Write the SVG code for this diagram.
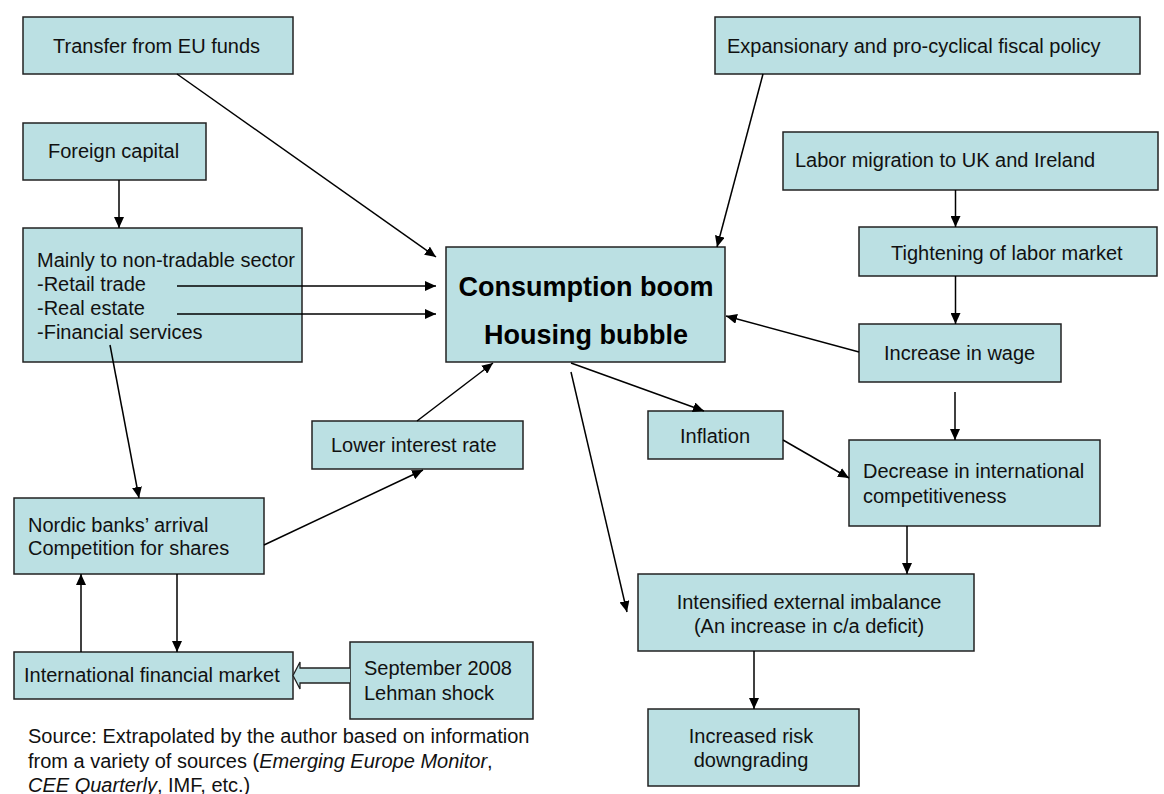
<svg xmlns="http://www.w3.org/2000/svg" width="1164" height="794" viewBox="0 0 1164 794">
<defs>
<marker id="ah" markerUnits="userSpaceOnUse" markerWidth="12" markerHeight="10" refX="11" refY="5" orient="auto">
<path d="M0,0 L11,5 L0,10 Z" fill="#000"/>
</marker>
<style>
.box{fill:#BBE0E3;stroke:#222;stroke-width:1.5}
.t{font-family:"Liberation Sans",Arial,sans-serif;font-size:20px;fill:#111}
.b{font-family:"Liberation Sans",Arial,sans-serif;font-size:27px;font-weight:bold;fill:#000}
.c{text-anchor:middle}
.ln{stroke:#000;stroke-width:1.5;fill:none;marker-end:url(#ah)}
</style>
</defs>
<rect width="1164" height="794" fill="#fff"/>

<g id="eu-funds">
<rect class="box" x="23" y="17" width="270" height="57"/>
<text class="t" x="53" y="53">Transfer from EU funds</text>
</g>
<g id="foreign-capital">
<rect class="box" x="23" y="123" width="183" height="57"/>
<text class="t" x="48" y="158">Foreign capital</text>
</g>
<g id="non-tradable">
<rect class="box" x="23" y="228" width="279" height="134"/>
<text class="t" x="37" y="267">Mainly to non-tradable sector</text>
<text class="t" x="37" y="291">-Retail trade</text>
<text class="t" x="37" y="315">-Real estate</text>
<text class="t" x="37" y="339">-Financial services</text>
</g>
<g id="consumption">
<rect class="box" x="446" y="247" width="279" height="115"/>
<text class="b c" x="586" y="296">Consumption boom</text>
<text class="b c" x="586" y="344">Housing bubble</text>
</g>
<g id="fiscal">
<rect class="box" x="715" y="17" width="425" height="57"/>
<text class="t" x="727" y="53">Expansionary and pro-cyclical fiscal policy</text>
</g>
<g id="labor-migration">
<rect class="box" x="783" y="132" width="375" height="58"/>
<text class="t" x="795" y="167">Labor migration to UK and Ireland</text>
</g>
<g id="tightening">
<rect class="box" x="859" y="227" width="298" height="49"/>
<text class="t" x="891" y="260">Tightening of labor market</text>
</g>
<g id="wage">
<rect class="box" x="859" y="324" width="202" height="58"/>
<text class="t" x="884" y="360">Increase in wage</text>
</g>
<g id="lower-rate">
<rect class="box" x="312" y="421" width="211" height="48"/>
<text class="t" x="331" y="452">Lower interest rate</text>
</g>
<g id="nordic">
<rect class="box" x="14" y="498" width="250" height="76"/>
<text class="t" x="28" y="532">Nordic banks’ arrival</text>
<text class="t" x="28" y="555">Competition for shares</text>
</g>
<g id="intl-market">
<rect class="box" x="14" y="652" width="279" height="47"/>
<text class="t" x="24" y="682">International financial market</text>
</g>
<g id="lehman">
<rect class="box" x="350" y="642" width="183" height="77"/>
<text class="t" x="364" y="675">September 2008</text>
<text class="t" x="364" y="700">Lehman shock</text>
</g>
<g id="inflation">
<rect class="box" x="648" y="411" width="135" height="48"/>
<text class="t" x="680" y="443">Inflation</text>
</g>
<g id="competitiveness">
<rect class="box" x="849" y="440" width="251" height="86"/>
<text class="t" x="863" y="478">Decrease in international</text>
<text class="t" x="863" y="503">competitiveness</text>
</g>
<g id="imbalance">
<rect class="box" x="638" y="574" width="336" height="77"/>
<text class="t c" x="809" y="609">Intensified external imbalance</text>
<text class="t c" x="809" y="633">(An increase in c/a deficit)</text>
</g>
<g id="risk">
<rect class="box" x="648" y="709" width="211" height="77"/>
<text class="t c" x="751" y="743">Increased risk</text>
<text class="t c" x="751" y="767">downgrading</text>
</g>
<g id="source">
<text class="t" x="28" y="743">Source: Extrapolated by the author based on information</text>
<text class="t" x="28" y="768">from a variety of sources (<tspan font-style="italic">Emerging Europe Monitor</tspan>,</text>
<text class="t" x="28" y="792"><tspan font-style="italic">CEE Quarterly</tspan>, IMF, etc.)</text>
</g>

<g id="connectors">
<line class="ln" x1="177" y1="74" x2="436" y2="257"/>
<line class="ln" x1="119" y1="180" x2="119" y2="228"/>
<line class="ln" x1="177" y1="286" x2="436" y2="286"/>
<line class="ln" x1="177" y1="314" x2="436" y2="314"/>
<line class="ln" x1="110" y1="345" x2="139" y2="498"/>
<line class="ln" x1="763" y1="74" x2="717" y2="247"/>
<line class="ln" x1="955.5" y1="190" x2="955.5" y2="227"/>
<line class="ln" x1="955.5" y1="276" x2="955.5" y2="324"/>
<line class="ln" x1="859" y1="352" x2="726" y2="316"/>
<line class="ln" x1="417" y1="421" x2="493" y2="363"/>
<line class="ln" x1="264" y1="545" x2="423" y2="470"/>
<line class="ln" x1="177" y1="574" x2="177" y2="652"/>
<line class="ln" x1="81" y1="652" x2="81" y2="574"/>
<line class="ln" x1="571" y1="363" x2="704" y2="411"/>
<line class="ln" x1="571" y1="372" x2="627" y2="612"/>
<line class="ln" x1="783" y1="440" x2="849" y2="478"/>
<line class="ln" x1="955" y1="392" x2="955" y2="440"/>
<line class="ln" x1="907" y1="526" x2="907" y2="574"/>
<line class="ln" x1="754" y1="651" x2="754" y2="709"/>
<path d="M350,668 L300,668 L300,662 L293,675.5 L300,689 L300,683 L350,683" fill="#BBE0E3" stroke="#222" stroke-width="1.3"/>
</g>
</svg>
